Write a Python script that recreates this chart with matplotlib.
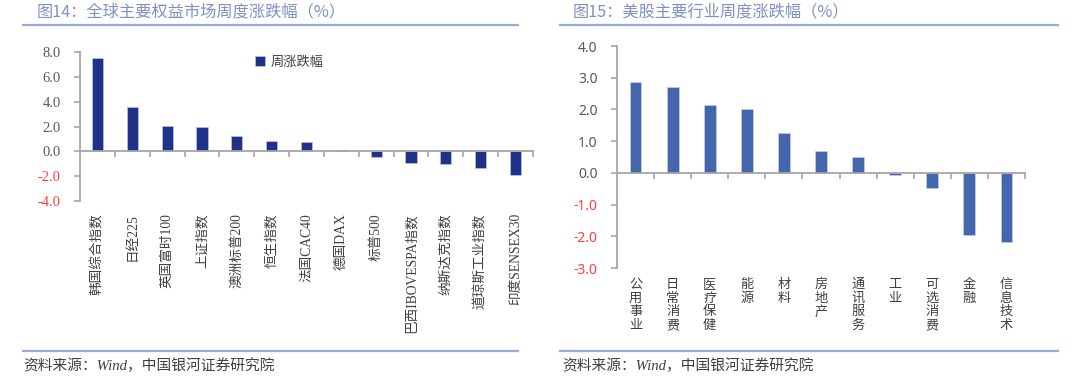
import matplotlib
matplotlib.use("Agg")
import matplotlib.pyplot as plt
import numpy as np
from matplotlib.lines import Line2D

plt.rcParams['font.family'] = ['Noto Sans CJK SC', 'DejaVu Sans']
plt.rcParams['axes.unicode_minus'] = False

# ---------------- data ----------------
left_title = "图14：全球主要权益市场周度涨跌幅（%）"
left_categories = ["韩国综合指数", "日经225", "英国富时100", "上证指数", "澳洲标普200",
                   "恒生指数", "法国CAC40", "德国DAX", "标普500", "巴西IBOVESPA指数",
                   "纳斯达克指数", "道琼斯工业指数", "印度SENSEX30"]
left_values = [7.5, 3.55, 2.05, 1.95, 1.25, 0.8, 0.72, 0.08, -0.48, -0.97, -1.02, -1.33, -1.9]
left_series = "周涨跌幅"
left_yticks = [-4.0, -2.0, 0.0, 2.0, 4.0, 6.0, 8.0]

right_title = "图15：美股主要行业周度涨跌幅（%）"
right_categories = ["公用事业", "日常消费", "医疗保健", "能源", "材料", "房地产",
                    "通讯服务", "工业", "可选消费", "金融", "信息技术"]
right_values = [2.87, 2.70, 2.13, 2.0, 1.25, 0.70, 0.50, -0.08, -0.47, -1.95, -2.18]
right_yticks = [-3.0, -2.0, -1.0, 0.0, 1.0, 2.0, 3.0, 4.0]

source_text = "资料来源：Wind，中国银河证券研究院"

# ---------------- style ----------------
W, H = 1080, 384
fig = plt.figure(figsize=(W / 100, H / 100), dpi=100)

title_color = "#7f90c4"
rule_color = "#9aaad6"
spine_color = "#a6a6a6"
tick_color = "#595959"
neg_color = "#ff4040"


def fx(px):
    return px / W


def fy(py):
    return 1 - py / H


def rules(x0, x1):
    fig.add_artist(Line2D([fx(x0), fx(x1)], [fy(25), fy(25)], color=rule_color, lw=1.6))
    fig.add_artist(Line2D([fx(x0), fx(x1)], [fy(351), fy(351)], color=rule_color, lw=1.6))


def style_axes(ax, ylim, yticks, ylabel_family, ylabel_size):
    ax.set_ylim(*ylim)
    for s in ['top', 'right']:
        ax.spines[s].set_visible(False)
    ax.spines['left'].set_color(spine_color)
    ax.spines['left'].set_linewidth(1.3)
    ax.spines['bottom'].set_color(spine_color)
    ax.spines['bottom'].set_linewidth(1.3)
    ax.spines['bottom'].set_position(('data', 0))
    ax.set_yticks(yticks)
    labels = ax.set_yticklabels([f"{v:.1f}" for v in yticks], family=ylabel_family,
                                fontsize=ylabel_size)
    for lab, v in zip(labels, yticks):
        lab.set_color(neg_color if v < 0 else tick_color)
    ax.tick_params(axis='y', direction='out', length=4, width=1.2, color=spine_color, pad=10)
    ax.set_facecolor('none')


# ---------------- left chart ----------------
axL = fig.add_axes([fx(80), fy(201), fx(533 - 80), (201 - 52) / H])
nL = len(left_categories)
xL = np.arange(nL)
axL.bar(xL, left_values, width=0.32, color="#1f3189", edgecolor="#c8d0e8", linewidth=0.4,
        label=left_series)
axL.set_xlim(-0.5, nL - 0.5)
style_axes(axL, (-4, 8), left_yticks, ['Liberation Serif', 'Noto Sans CJK SC'], 10.5)
axL.set_xticks(xL)
axL.set_xticklabels(left_categories, rotation=90, family=['Liberation Serif', 'Noto Sans CJK SC'],
                    fontsize=9.8, color="#404040")
axL.set_xticks(np.arange(nL) + 0.5, minor=True)
axL.tick_params(axis='x', which='major', length=0, pad=44.5)
axL.tick_params(axis='x', which='minor', direction='out', length=4, width=1.2, color=spine_color)
leg = axL.legend(loc='center left', bbox_to_anchor=(0.372, 0.933), frameon=False,
                 handlelength=0.75, handleheight=0.75, handletextpad=0.4, borderpad=0,
                 prop={'family': ['Noto Sans CJK SC'], 'size': 9.5})
for t in leg.get_texts():
    t.set_color("#404040")

fig.text(fx(37), fy(12), left_title, fontsize=11.7, color=title_color, va='center', ha='left')
rules(23, 518)
fig.text(fx(23), fy(366), source_text, fontsize=10.6, color="#404040", va='center', ha='left',
         style='italic', family=['Liberation Serif', 'Noto Sans CJK SC'])

# ---------------- right chart ----------------
axR = fig.add_axes([fx(617), fy(268), fx(1025 - 617), (268 - 46) / H])
nR = len(right_categories)
xR = np.arange(nR)
axR.bar(xR, right_values, width=0.32, color="#4565ad", edgecolor="#d0d8ec", linewidth=0.4)
axR.set_xlim(-0.5, nR - 0.5)
style_axes(axR, (-3, 4), right_yticks, ['Noto Sans', 'Noto Sans CJK SC'], 10)
axR.set_xticks(xR)
axR.set_xticklabels(["\n".join(c) for c in right_categories], fontsize=9.5, color="#404040",
                    linespacing=1.08)
axR.set_xticks(np.arange(nR) + 0.5, minor=True)
axR.tick_params(axis='x', which='major', length=0, pad=75.5)
axR.tick_params(axis='x', which='minor', direction='out', length=4, width=1.2, color=spine_color)

fig.text(fx(573), fy(12), right_title, fontsize=11.7, color=title_color, va='center', ha='left')
rules(560, 1058)
fig.text(fx(562), fy(366), source_text, fontsize=10.6, color="#404040", va='center', ha='left',
         style='italic', family=['Liberation Serif', 'Noto Sans CJK SC'])

fig.savefig("out.png", dpi=100, facecolor='white')
